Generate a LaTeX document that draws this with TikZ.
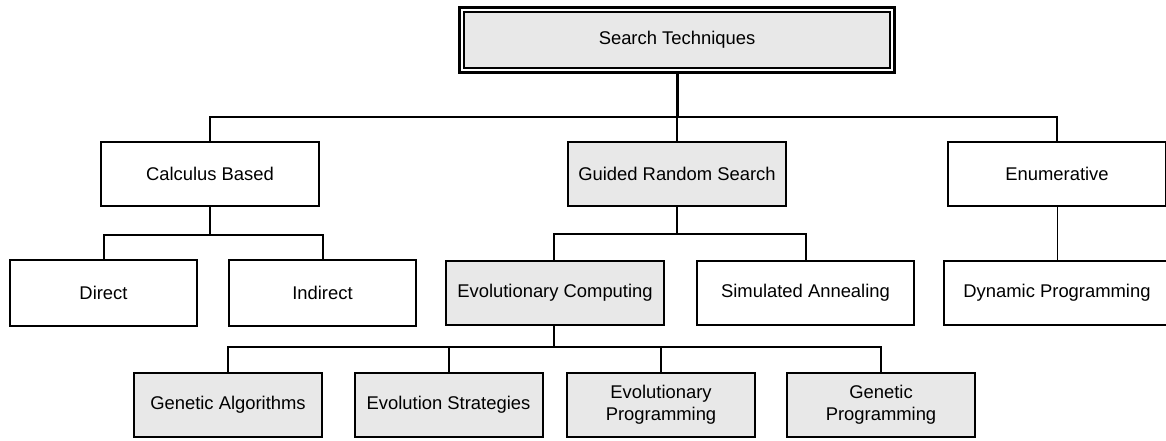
\documentclass[tikz,border=0pt]{standalone}
\usepackage{fontspec}
\setmainfont{Liberation Sans}
\usetikzlibrary{calc}
\definecolor{boxgray}{RGB}{232,232,232}
\begin{document}
\begin{tikzpicture}[x=1pt,y=-1pt,
  every node/.style={font=\fontsize{18.4}{22}\selectfont, align=center, inner sep=0pt},
  box/.style={draw=black, line width=2pt, minimum height=64pt},
  graybox/.style={box, fill=boxgray},
  wire/.style={line width=2pt, black},
  thinwire/.style={line width=1pt, black}]
\clip (0,0) rectangle (1166,440);
\fill[white] (0,0) rectangle (1166,440);

% root with double frame
\node[draw=black, fill=boxgray, line width=1.5pt, minimum width=426pt, minimum height=56pt] (top) at (677,40) {Search Techniques};
\draw[line width=3pt] ($(top.north west)+(-3.75pt,3.75pt)$) rectangle ($(top.south east)+(3.75pt,-3.75pt)$);

% second level
\node[box, minimum width=218pt] (calc) at (210,174) {Calculus Based};
\node[graybox, minimum width=218pt] (guided) at (677,173.5) {Guided Random Search};
\node[box, minimum width=218pt] (enum) at (1057,174) {Enumerative};

% third level
\node[box, minimum width=187pt, minimum height=66pt] (direct) at (103.5,293) {Direct};
\node[box, minimum width=187pt, minimum height=66pt] (indirect) at (322.5,293) {Indirect};
\node[graybox, minimum width=218pt] (evocomp) at (555,293) {Evolutionary Computing};
\node[box, minimum width=217pt] (simann) at (805.5,293) {Simulated Annealing};
\node[box, minimum width=226pt] (dynprog) at (1057,293) {Dynamic Programming};

% fourth level
\node[graybox, minimum width=188pt] (ga) at (228,405) {Genetic Algorithms};
\node[graybox, minimum width=188pt] (es) at (448.5,405) {Evolution Strategies};
\node[graybox, minimum width=188pt] (ep) at (661,405) {Evolutionary\\Programming};
\node[graybox, minimum width=188pt] (gp) at (881,405) {Genetic\\Programming};

% branching points
\coordinate (tb) at (677,116.5);
\coordinate (cb) at (210,235);
\coordinate (gb) at (677,234);
\coordinate (eb) at (554,347);

% connectors
\draw[line width=3pt] ($(top.south)+(0,-3.75pt)$) -- (tb);
\draw[wire] (calc.north) |- (tb) -| (enum.north);
\draw[wire] (tb) -- (guided.north);

\draw[wire] (calc.south) -- (cb);
\draw[wire] (direct.north) |- (cb) -| (indirect.north);

\draw[wire] (guided.south) -- (gb);
\draw[wire] (evocomp.north -| eb) |- (gb) -| (simann.north);

\draw[thinwire] (enum.south) -- (dynprog.north);

\draw[wire] (evocomp.south -| eb) -- (eb);
\draw[wire] (ga.north) |- (eb) -| (gp.north);
\draw[wire] (es.north) -- (es.north |- eb);
\draw[wire] (ep.north) -- (ep.north |- eb);
\end{tikzpicture}
\end{document}
